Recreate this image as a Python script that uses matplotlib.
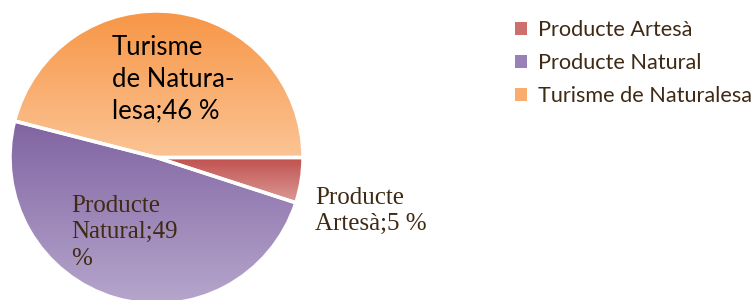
import numpy as np
import matplotlib
matplotlib.use("Agg")
import matplotlib.pyplot as plt
from matplotlib.colors import LinearSegmentedColormap
from matplotlib.patches import Patch

categories = ["Producte Artesà", "Producte Natural", "Turisme de Naturalesa"]
valors = [5, 49, 46]
etiquetes = ["Producte\nArtesà;5 %", "Producte\nNatural;49\n%", "Turisme\nde Natura-\nlesa;46 %"]

# colors (top, bottom) for each slice gradient
gradients = [("#c0504d", "#db9a97"), ("#8064a2", "#b6a6cc"), ("#f79646", "#fbc495")]
legend_colors = ["#cd6f6c", "#9781b8", "#f9ac6c"]
brown = "#3f2a14"

W, H = 752, 300
fig = plt.figure(figsize=(W / 100, H / 100), dpi=100)
cx, cy, r = 156.5, 157.5, 146.5
ax = fig.add_axes([(cx - r) / W, (H - cy - r) / H, 2 * r / W, 2 * r / H])

wedges, _ = ax.pie(valors, startangle=0, counterclock=False, radius=1,
                   wedgeprops=dict(edgecolor="white", linewidth=2.5))

grad = np.linspace(0, 1, 256).reshape(-1, 1)
for w, (c_top, c_bot) in zip(wedges, gradients):
    ext = w.get_path().get_extents()
    cmap = LinearSegmentedColormap.from_list("g", [c_bot, c_top])
    im = ax.imshow(grad, cmap=cmap, origin="lower", aspect="auto",
                   extent=[ext.x0, ext.x1, ext.y0, ext.y1], zorder=0.5)
    im.set_clip_path(w)
    w.set_facecolor("none")
    w.set_clip_on(False)

ax.set_xlim(-1, 1)
ax.set_ylim(-1, 1)
ax.set_aspect("auto")
ax.axis("off")

# data labels
fig.text(315 / W, 1 - 187 / H, etiquetes[0], family="Liberation Serif", fontsize=18,
         color=brown, va="top", ha="left", linespacing=1.24)
fig.text(71 / W, 1 - 195 / H, etiquetes[1], family="Liberation Serif", fontsize=18,
         color=brown, va="top", ha="left", linespacing=1.26)
fig.text(112 / W, 1 - 35 / H, etiquetes[2], family="Lato", fontsize=18.5,
         color="black", va="top", ha="left", linespacing=1.33)

handles = [Patch(facecolor=c, edgecolor="none") for c in legend_colors]
fig.legend(handles, categories, loc="upper left", bbox_to_anchor=(515 / W, 1 - 20 / H),
           frameon=False, prop=dict(family="Lato", size=15.6), labelcolor=brown,
           handlelength=0.55, handleheight=0.55, handletextpad=0.5,
           labelspacing=0.6, borderpad=0, borderaxespad=0)

fig.savefig("out.png", dpi=100)
